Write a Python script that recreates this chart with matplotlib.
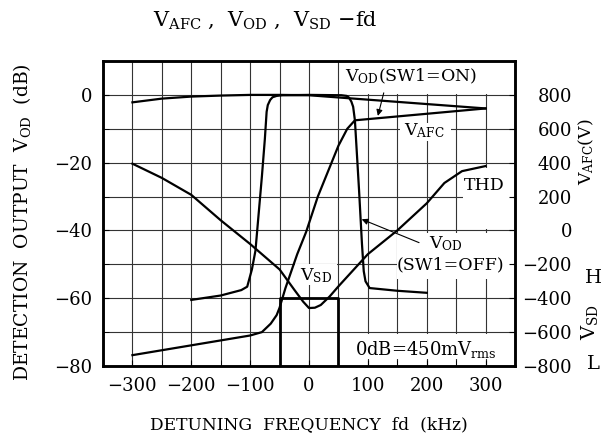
import numpy as np
import matplotlib
matplotlib.use('Agg')
import matplotlib.pyplot as plt
from matplotlib.patches import Rectangle

plt.rcParams['font.family'] = ['DejaVu Serif']
plt.rcParams['mathtext.fontset'] = 'dejavuserif'

# V_OD with SW1=ON (dB)
fd_on = [-300, -250, -200, -150, -100, -50, 0, 30, 300]
vod_on = [-2.2, -1.1, -0.5, -0.2, 0.0, 0.0, -0.1, -0.5, -4.0]

# V_OD with SW1=OFF (dB)
fd_off = [-200, -150, -115, -105, -97, -91, -88, -80, -75, -72, -70, -66, -62, -55, -45,
          0, 55, 64, 68, 72, 75, 78, 85, 90, 93, 96, 103, 150, 200]
vod_off = [-60.5, -59.2, -57.6, -56.6, -51.5, -46.0, -40.0, -24.0, -13.0, -5.0, -3.0, -1.5, -0.7, -0.3, -0.1,
           0.0, -0.1, -0.3, -0.8, -2.0, -3.5, -7.5, -28.0, -44.0, -52.0, -55.0, -57.0, -57.8, -58.4]

# THD curve (drawn on dB scale)
fd_thd = [-300, -250, -200, -150, -100, -50, -25, -10, 0, 10, 20, 35, 50, 100, 150, 200, 230, 260, 300]
thd = [-20.3, -24.5, -29.5, -37.0, -44.0, -51.5, -57.5, -61.0, -62.9, -62.8, -62.0, -59.5, -56.5,
       -47.0, -40.0, -32.0, -26.0, -22.5, -21.0]

# V_AFC (V, right axis)
fd_afc = [-300, -200, -100, -80, -65, -55, -50, -40, -20, -5, 15, 50, 65, 78, 300]
vafc = [-736, -678, -620, -600, -550, -500, -456, -340, -140, -10, 200, 500, 600, 650, 720]

# V_SD step (dB scale, L = -80, H = -60)
fd_sd = [-50, -50, 50, 50]
vsd = [-80, -60, -60, -80]

left_ticks = [0, -20, -40, -60, -80]
right_ticks = [800, 600, 400, 200, 0, -200, -400, -600, -800]
x_ticks = [-300, -200, -100, 0, 100, 200, 300]

W, H = 610, 441
fig = plt.figure(figsize=(W / 100, H / 100), dpi=100)
ax = fig.add_axes([103 / W, 1 - 366 / H, 412 / W, 305 / H])
ax.set_xlim(-350, 350)
ax.set_ylim(-80, 10)
ax.set_xticks(x_ticks)
ax.set_xticks(np.arange(-350, 351, 50), minor=True)
ax.set_yticks(left_ticks)
ax.set_yticks(np.arange(-80, 11, 10), minor=True)
ax.grid(True, which='both', color='#333333', lw=0.8)
ax.set_axisbelow(True)
ax.tick_params(which='both', direction='in', length=4, labelsize=13, pad=8)
for s in ax.spines.values():
    s.set_linewidth(1.8)

# white areas behind the labels
boxes = [(55, 0.4, 285, 9.4), (155, -8.2, 87, -5.4), (262, -21.6, 84, -18.0),
         (150, -40.9, 196, -13.4), (-24, -49.8, 71, -6.3), (53, -70.6, 293, -7.4)]
for bx, by, bw, bh in boxes:
    ax.add_patch(Rectangle((bx, by), bw, bh, facecolor='white', edgecolor='none', zorder=1))

lw = 1.6
ax.plot(fd_on, vod_on, color='k', lw=lw, zorder=2)
ax.plot(fd_off, vod_off, color='k', lw=lw, zorder=2)
ax.plot(fd_thd, thd, color='k', lw=lw, zorder=2)
ax.plot(fd_sd, vsd, color='k', lw=2.0, zorder=2)

ax2 = ax.twinx()
ax2.set_ylim(-800, 1000)
ax2.set_yticks(right_ticks)
ax2.tick_params(direction='in', length=4, labelsize=13, pad=41)
for lab in ax2.get_yticklabels():
    lab.set_ha('right')
for s in ax2.spines.values():
    s.set_linewidth(1.8)
ax2.plot(fd_afc, vafc, color='k', lw=lw)

fs = 12.5
ax.text(173, 5.4, r'V$_{\mathrm{OD}}$(SW1=ON)', ha='center', va='center', fontsize=fs, zorder=3)
ax.text(196, -10.7, r'V$_{\mathrm{AFC}}$', ha='center', va='center', fontsize=fs, zorder=3)
ax.text(298, -26.6, 'THD', ha='center', va='center', fontsize=fs, zorder=3)
ax.text(232, -44.0, r'V$_{\mathrm{OD}}$', ha='center', va='center', fontsize=fs, zorder=3)
ax.text(240, -50.1, '(SW1=OFF)', ha='center', va='center', fontsize=fs, zorder=3)
ax.text(12.7, -53.4, r'V$_{\mathrm{SD}}$', ha='center', va='center', fontsize=fs, zorder=3)
ax.text(199, -75.0, r'0dB=450mV$_{\mathrm{rms}}$', ha='center', va='center', fontsize=13, zorder=3)

arrow = dict(arrowstyle='-|>', color='k', lw=0.8, mutation_scale=9, shrinkA=0, shrinkB=0)
ax.annotate('', xy=(117, -6.2), xytext=(127, 0.6), arrowprops=arrow, zorder=3)
ax.annotate('', xy=(89.5, -36.7), xytext=(187, -43.6), arrowprops=arrow, zorder=3)

fig.text(265 / W, 1 - 20 / H, r'V$_{\mathrm{AFC}}$ ,  V$_{\mathrm{OD}}$ ,  V$_{\mathrm{SD}}$ $-$fd',
         ha='center', va='center', fontsize=15)
fig.text(309 / W, 1 - 425 / H, 'DETUNING  FREQUENCY  fd  (kHz)', ha='center', va='center', fontsize=12.3)
fig.text(22 / W, 1 - 222 / H, r'DETECTION  OUTPUT  V$_{\mathrm{OD}}$  (dB)', ha='center', va='center',
         rotation=90, fontsize=13.5)
fig.text(586 / W, 1 - 152 / H, r'V$_{\mathrm{AFC}}$(V)', ha='center', va='center', rotation=90, fontsize=12.5)
fig.text(593 / W, 1 - 278 / H, 'H', ha='center', va='center', fontsize=14)
fig.text(590 / W, 1 - 322 / H, r'V$_{\mathrm{SD}}$', ha='center', va='center', rotation=90, fontsize=14)
fig.text(593 / W, 1 - 364 / H, 'L', ha='center', va='center', fontsize=14)

fig.savefig('out.png', dpi=100)
